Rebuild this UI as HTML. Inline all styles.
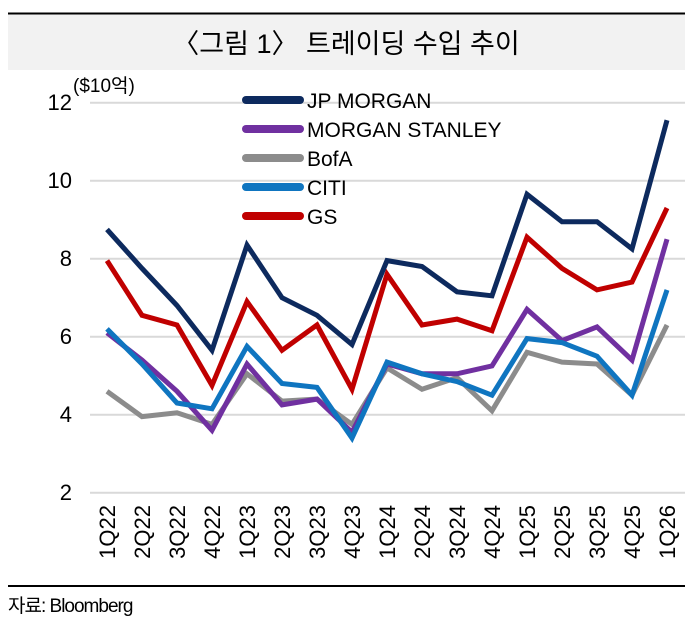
<!DOCTYPE html>
<html><head><meta charset="utf-8"><style>
body{margin:0;background:#fff;}
svg{display:block;font-family:"Liberation Sans","Noto Sans CJK KR",sans-serif;}
</style></head><body>
<svg width="685" height="617" viewBox="0 0 685 617" xmlns="http://www.w3.org/2000/svg">
<rect x="8" y="14" width="677" height="56" fill="#f2f2f2"/>
<line x1="8" y1="13.5" x2="685" y2="13.5" stroke="#000" stroke-width="2"/>
<text x="346" y="53" font-size="27" text-anchor="middle" fill="#000">〈그림 1〉 트레이딩 수입 추이</text>
<g stroke="#d9d9d9" stroke-width="2">
<line x1="90" y1="102.7" x2="685" y2="102.7"/>
<line x1="90" y1="180.7" x2="685" y2="180.7"/>
<line x1="90" y1="258.7" x2="685" y2="258.7"/>
<line x1="90" y1="336.7" x2="685" y2="336.7"/>
<line x1="90" y1="414.7" x2="685" y2="414.7"/>
<line x1="90" y1="492.7" x2="685" y2="492.7"/>
</g>
<g font-size="22" text-anchor="end" fill="#000">
<text x="72" y="110">12</text><text x="72" y="188">10</text><text x="72" y="266">8</text>
<text x="72" y="344">6</text><text x="72" y="422">4</text><text x="72" y="500">2</text>
</g>
<text x="73" y="92" font-size="19">($10억)</text>
<g id="series" fill="none" stroke-width="5" stroke-linejoin="miter" stroke-linecap="butt"></g>
<g stroke-width="8" stroke-linecap="round">
<line x1="246" y1="100" x2="300" y2="100" stroke="#0d2a5e"/>
<line x1="246" y1="129" x2="300" y2="129" stroke="#7030a0"/>
<line x1="246" y1="158" x2="300" y2="158" stroke="#8c8c8c"/>
<line x1="246" y1="187" x2="300" y2="187" stroke="#0f75c0"/>
<line x1="246" y1="216" x2="300" y2="216" stroke="#c00000"/>
</g>
<g font-size="21" fill="#000">
<text x="307" y="108">JP MORGAN</text>
<text x="307" y="137">MORGAN STANLEY</text>
<text x="307" y="166">BofA</text>
<text x="307" y="195">CITI</text>
<text x="307" y="224">GS</text>
</g>
<g id="xl" font-size="22" fill="#000"></g>
<line x1="8" y1="586" x2="685" y2="586" stroke="#000" stroke-width="2"/>
<text x="8" y="612" font-size="19" fill="#000" letter-spacing="-1">자료: Bloomberg</text>
<script>
var d={
"#8c8c8c":[4.6,3.95,4.05,3.75,5.05,4.35,4.4,3.75,5.2,4.65,4.95,4.1,5.6,5.35,5.3,4.5,6.3],
"#7030a0":[6.1,5.4,4.6,3.6,5.3,4.25,4.4,3.55,5.3,5.05,5.05,5.25,6.7,5.9,6.25,5.4,8.5],
"#0f75c0":[6.2,5.3,4.3,4.15,5.75,4.8,4.7,3.4,5.35,5.05,4.85,4.5,5.95,5.85,5.5,4.5,7.2],
"#c00000":[7.95,6.55,6.3,4.75,6.9,5.65,6.3,4.65,7.6,6.3,6.45,6.15,8.55,7.75,7.2,7.4,9.3],
"#0d2a5e":[8.75,7.75,6.8,5.65,8.35,7.0,6.55,5.8,7.95,7.8,7.15,7.05,9.65,8.95,8.95,8.25,11.55]};
var g=document.getElementById('series'),ns="http://www.w3.org/2000/svg";
for(var c in d){var p=d[c].map(function(v,i){return (107+i*35)+","+(492.7-(v-2)*39).toFixed(1)}).join(" ");
var e=document.createElementNS(ns,'polyline');e.setAttribute('points',p);e.setAttribute('stroke',c);g.appendChild(e);}
var L=["1Q22","2Q22","3Q22","4Q22","1Q23","2Q23","3Q23","4Q23","1Q24","2Q24","3Q24","4Q24","1Q25","2Q25","3Q25","4Q25","1Q26"];
var xl=document.getElementById('xl');
L.forEach(function(t,i){var x=107+i*35+8;var e=document.createElementNS(ns,'text');e.setAttribute('transform','translate('+x+',505) rotate(-90)');e.setAttribute('text-anchor','end');e.textContent=t;xl.appendChild(e);});
</script>
</svg>
</body></html>
